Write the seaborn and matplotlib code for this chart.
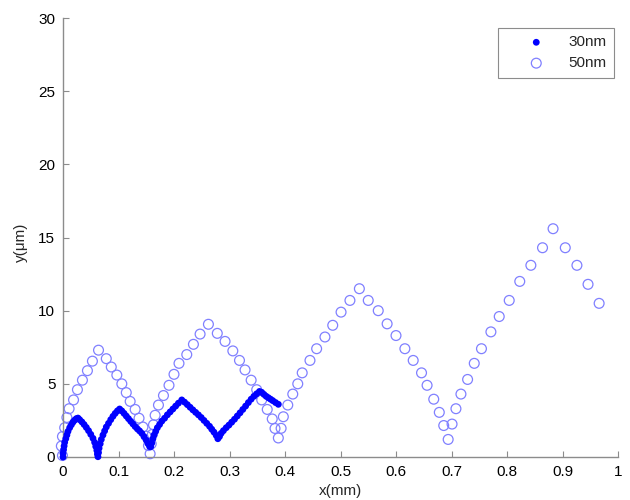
import numpy as np
import pandas as pd
import seaborn as sns
import matplotlib
matplotlib.use("Agg")
import matplotlib.pyplot as plt

# 30nm series (filled dots)
x30 = [0.000, 0.000, 0.001, 0.002, 0.003, 0.005, 0.007, 0.009, 0.012, 0.015, 0.018, 0.021, 0.024, 0.027,
       0.030, 0.034, 0.038, 0.042, 0.046, 0.050, 0.054, 0.057, 0.059, 0.061, 0.062, 0.063,
       0.064, 0.065, 0.067, 0.069, 0.072, 0.075, 0.078, 0.082, 0.086, 0.090, 0.094, 0.098, 0.102,
       0.106, 0.110, 0.114, 0.118, 0.122, 0.126, 0.130, 0.134, 0.138, 0.142, 0.146, 0.150, 0.153, 0.156,
       0.158, 0.160, 0.162, 0.164, 0.167, 0.170, 0.174, 0.178, 0.183, 0.188, 0.193, 0.198, 0.203, 0.208, 0.214,
       0.219, 0.224, 0.229, 0.234, 0.239, 0.244, 0.249, 0.254, 0.259, 0.264, 0.268, 0.272, 0.276, 0.279,
       0.282, 0.285, 0.289, 0.294, 0.299, 0.304, 0.309, 0.314, 0.319, 0.324, 0.329, 0.334, 0.339, 0.344,
       0.349, 0.354, 0.358, 0.362, 0.366, 0.370, 0.374, 0.378, 0.383, 0.388]
y30 = [0.00, 0.25, 0.50, 0.75, 1.00, 1.25, 1.50, 1.75, 2.00, 2.20, 2.38, 2.52, 2.62, 2.66,
       2.55, 2.40, 2.22, 2.02, 1.80, 1.55, 1.28, 1.00, 0.72, 0.45, 0.20, 0.02,
       0.30, 0.60, 0.90, 1.20, 1.50, 1.78, 2.05, 2.30, 2.55, 2.78, 2.98, 3.15, 3.28,
       3.15, 2.98, 2.80, 2.62, 2.44, 2.26, 2.08, 1.92, 1.78, 1.62, 1.40, 1.15, 0.92, 0.72,
       0.70, 0.95, 1.25, 1.50, 1.75, 2.00, 2.22, 2.45, 2.65, 2.88, 3.08, 3.28, 3.48, 3.68, 3.90,
       3.75, 3.58, 3.40, 3.22, 3.05, 2.88, 2.70, 2.50, 2.30, 2.10, 1.90, 1.70, 1.48, 1.25,
       1.40, 1.62, 1.80, 2.00, 2.18, 2.38, 2.58, 2.80, 3.02, 3.25, 3.48, 3.72, 3.95, 4.15,
       4.32, 4.48, 4.42, 4.28, 4.15, 4.05, 3.95, 3.85, 3.72, 3.60]

# 50nm series (open circles)
x50 = [-0.001, -0.003, -0.001, 0.003, 0.007, 0.011, 0.019, 0.026, 0.035, 0.044, 0.053, 0.064,
       0.078, 0.087, 0.097, 0.106, 0.114, 0.121, 0.130, 0.137, 0.144, 0.150, 0.154, 0.157,
       0.159, 0.161, 0.163, 0.166, 0.172, 0.181, 0.191, 0.200, 0.209, 0.223, 0.235, 0.247, 0.262,
       0.278, 0.292, 0.306, 0.318, 0.328, 0.339, 0.349, 0.358, 0.368, 0.377, 0.382, 0.388,
       0.393, 0.397, 0.405, 0.414, 0.423, 0.431, 0.445, 0.457, 0.472, 0.486, 0.501, 0.517, 0.534,
       0.550, 0.568, 0.584, 0.600, 0.616, 0.631, 0.646, 0.656, 0.668, 0.678, 0.686, 0.694,
       0.701, 0.708, 0.717, 0.729, 0.741, 0.754, 0.771, 0.786, 0.804, 0.823, 0.843, 0.864, 0.883,
       0.905, 0.926, 0.946, 0.966]
y50 = [0.1, 0.75, 1.4, 2.0, 2.7, 3.3, 3.9, 4.6, 5.25, 5.9, 6.55, 7.3,
       6.72, 6.15, 5.6, 5.0, 4.4, 3.8, 3.25, 2.65, 2.05, 1.42, 0.78, 0.22,
       0.9, 1.55, 2.2, 2.85, 3.55, 4.2, 4.9, 5.65, 6.4, 7.0, 7.7, 8.4, 9.07,
       8.45, 7.9, 7.25, 6.6, 5.95, 5.25, 4.6, 3.9, 3.25, 2.6, 1.95, 1.3,
       1.96, 2.75, 3.55, 4.3, 5.0, 5.75, 6.6, 7.4, 8.2, 9.0, 9.9, 10.7, 11.5,
       10.7, 10.0, 9.1, 8.3, 7.4, 6.6, 5.75, 4.9, 3.95, 3.05, 2.15, 1.2,
       2.25, 3.3, 4.3, 5.3, 6.4, 7.4, 8.55, 9.6, 10.7, 12.0, 13.1, 14.3, 15.6,
       14.3, 13.1, 11.8, 10.5]

x_ticks = [0, 0.1, 0.2, 0.3, 0.4, 0.5, 0.6, 0.7, 0.8, 0.9, 1]
x_tick_labels = ["0", "0.1", "0.2", "0.3", "0.4", "0.5", "0.6", "0.7", "0.8", "0.9", "1"]
y_ticks = [0, 5, 10, 15, 20, 25, 30]

sns.set_theme(style="ticks")
plt.rcParams["font.family"] = ["Liberation Sans", "DejaVu Sans"]

fig = plt.figure(figsize=(6.3, 5), dpi=100)
ax = fig.add_axes([63 / 630, 43 / 500, 555 / 630, 439 / 500])

sns.scatterplot(x=x30, y=y30, ax=ax, color="#0000ff", edgecolor="none", s=24,
                label="30nm", clip_on=False, zorder=3)
sns.scatterplot(x=x50, y=y50, ax=ax, color="#8080ff", facecolor="none", edgecolor="#8080ff",
                linewidth=0.9, s=50, label="50nm", clip_on=False, zorder=2)

ax.set_xlim(0, 1)
ax.set_ylim(0, 30)
ax.set_xticks(x_ticks)
ax.set_xticklabels(x_tick_labels)
ax.set_yticks(y_ticks)

grey = "#8c8c8c"
for side in ["top", "right"]:
    ax.spines[side].set_visible(False)
for side in ["left", "bottom"]:
    ax.spines[side].set_color(grey)
    ax.spines[side].set_linewidth(1.0)
ax.tick_params(direction="in", length=4, width=0.8, color=grey, labelsize=11, labelcolor="black")
ax.tick_params(axis="x", pad=6)
ax.tick_params(axis="y", pad=5.5)

ax.set_xlabel("x(mm)", fontsize=11)
ax.set_ylabel("y(μm)", fontsize=11)
ax.xaxis.set_label_coords(0.5, -0.062)
ax.yaxis.set_label_coords(-0.063, 0.49)

leg = ax.legend(loc="upper right", bbox_to_anchor=(0.993, 0.978), borderaxespad=0,
                fontsize=11, handlelength=4.0, handletextpad=0.1, borderpad=0.5,
                labelspacing=0.45, fancybox=False, framealpha=1, scatterpoints=1)
leg.get_frame().set_edgecolor("#8c8c8c")
leg.get_frame().set_linewidth(0.8)

fig.savefig("out.png", dpi=100)
